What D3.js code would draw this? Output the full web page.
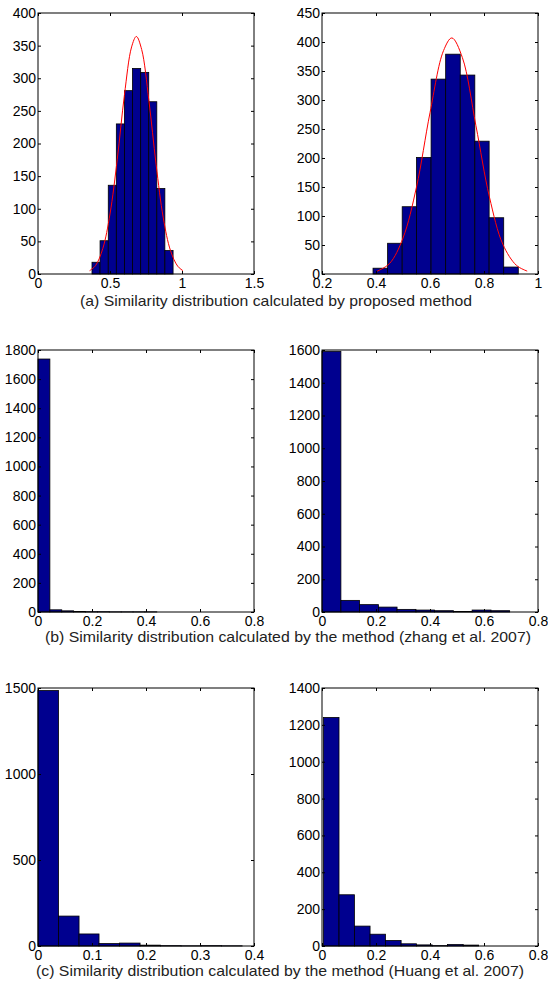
<!DOCTYPE html>
<html>
<head>
<meta charset="utf-8">
<script src="https://cdn.jsdelivr.net/npm/d3@7"></script>
<style>
  body { margin: 0; background: #fff; }
  svg text { font-family: Arial, "Liberation Sans", sans-serif; fill: #000; }
</style>
</head>
<body>
<div id="chart"></div>
<script>
// Histogram data (bin edges, counts, fitted curves)

const edgesA1 = [0.375, 0.431, 0.488, 0.544, 0.600, 0.656, 0.713, 0.769, 0.825, 0.881, 0.938];
const countsA1 = [18, 51, 136, 230, 281, 315, 309, 264, 131, 36];
const fitXA1 = [0.358, 0.40, 0.45, 0.50, 0.55, 0.60, 0.65, 0.683, 0.72, 0.77, 0.82, 0.87, 0.92, 0.97, 1.007];
const fitYA1 = [5, 13, 39, 92, 175, 274, 348, 364, 344, 266, 168, 86, 36, 12, 5];

const edgesA2 = [0.389, 0.443, 0.497, 0.550, 0.604, 0.658, 0.712, 0.766, 0.819, 0.873, 0.927];
const countsA2 = [10, 53, 116, 201, 336, 379, 343, 229, 97, 12];
const fitXA2 = [0.40, 0.45, 0.50, 0.55, 0.60, 0.65, 0.681, 0.72, 0.77, 0.82, 0.87, 0.92, 0.96];
const fitYA2 = [4, 18, 62, 150, 278, 385, 407, 373, 256, 133, 51, 15, 5];

const edgesB1 = [0, 0.044, 0.088, 0.132, 0.176, 0.220, 0.264, 0.308, 0.352, 0.396, 0.440];
const countsB1 = [1738, 15, 8, 3, 2, 2, 1, 1, 1, 1];

const edgesB2 = [0, 0.070, 0.139, 0.209, 0.278, 0.348, 0.417, 0.487, 0.556, 0.626, 0.695];
const countsB2 = [1592, 71, 45, 30, 16, 12, 8, 3, 12, 8];

const edgesC1 = [0, 0.038, 0.076, 0.113, 0.151, 0.189, 0.227, 0.265, 0.302, 0.340, 0.378];
const countsC1 = [1485, 174, 70, 14, 17, 5, 2, 1, 2, 1];

const edgesC2 = [0.005, 0.063, 0.120, 0.178, 0.235, 0.293, 0.350, 0.408, 0.465, 0.523, 0.580];
const countsC2 = [1240, 278, 108, 64, 30, 12, 6, 2, 8, 5];

// Tick labels
const xTicksA1 = [0, 0.5, 1, 1.5];
const yTicksA1 = [0, 50, 100, 150, 200, 250, 300, 350, 400];
const xTicksA2 = [0.2, 0.4, 0.6, 0.8, 1];
const yTicksA2 = [0, 50, 100, 150, 200, 250, 300, 350, 400, 450];
const xTicksB = [0, 0.2, 0.4, 0.6, 0.8];
const yTicksB1 = [0, 200, 400, 600, 800, 1000, 1200, 1400, 1600, 1800];
const yTicksB2 = [0, 200, 400, 600, 800, 1000, 1200, 1400, 1600];
const xTicksC1 = [0, 0.1, 0.2, 0.3, 0.4];
const yTicksC1 = [0, 500, 1000, 1500];
const xTicksC2 = [0, 0.2, 0.4, 0.6, 0.8];
const yTicksC2 = [0, 200, 400, 600, 800, 1000, 1200, 1400];

const captions = [
  "(a) Similarity distribution calculated by proposed method",
  "(b) Similarity distribution calculated by the method (zhang et al. 2007)",
  "(c) Similarity distribution calculated by the method (Huang et al. 2007)",
];

const WIDTH = 548;
const HEIGHT = 983;
const BAR_FILL = "#00008F";
const TICK = 3;
const FONT_SIZE = "14px";

const svg = d3
  .select("#chart")
  .append("svg")
  .attr("width", WIDTH)
  .attr("height", HEIGHT);

// column / row boxes in pixels
const cols = [
  [38, 254],
  [322, 538],
];
const rows = [
  [13, 274],
  [350, 612],
  [688, 946],
];

const panels = [
  { col: 0, row: 0, xDom: [0, 1.5], yDom: [0, 400], xTicks: xTicksA1, yTicks: yTicksA1, edges: edgesA1, counts: countsA1, fitX: fitXA1, fitY: fitYA1 },
  { col: 1, row: 0, xDom: [0.2, 1], yDom: [0, 450], xTicks: xTicksA2, yTicks: yTicksA2, edges: edgesA2, counts: countsA2, fitX: fitXA2, fitY: fitYA2 },
  { col: 0, row: 1, xDom: [0, 0.8], yDom: [0, 1800], xTicks: xTicksB, yTicks: yTicksB1, edges: edgesB1, counts: countsB1 },
  { col: 1, row: 1, xDom: [0, 0.8], yDom: [0, 1600], xTicks: xTicksB, yTicks: yTicksB2, edges: edgesB2, counts: countsB2 },
  { col: 0, row: 2, xDom: [0, 0.4], yDom: [0, 1500], xTicks: xTicksC1, yTicks: yTicksC1, edges: edgesC1, counts: countsC1 },
  { col: 1, row: 2, xDom: [0, 0.8], yDom: [0, 1400], xTicks: xTicksC2, yTicks: yTicksC2, edges: edgesC2, counts: countsC2 },
];

/**
 * Draw one histogram panel
 */
function drawPanel(p) {
  const [x0, x1] = cols[p.col];
  const [y0, y1] = rows[p.row];
  const x = d3.scaleLinear(p.xDom, [x0, x1]);
  const y = d3.scaleLinear(p.yDom, [y1, y0]);
  const g = svg.append("g");

  const bins = p.counts.map((c, i) => ({ lo: p.edges[i], hi: p.edges[i + 1], c: c }));

  g.selectAll("rect.bar")
    .data(bins)
    .enter()
    .append("rect")
    .attr("class", "bar")
    .attr("x", (d) => x(d.lo))
    .attr("y", (d) => y(d.c))
    .attr("width", (d) => x(d.hi) - x(d.lo))
    .attr("height", (d) => y(0) - y(d.c))
    .attr("fill", BAR_FILL)
    .attr("stroke", "#000")
    .attr("stroke-width", 0.8);

  if (p.fitX) {
    const pts = p.fitX.map((v, i) => ({ x: v, y: p.fitY[i] }));
    g.append("path")
      .datum(pts)
      .attr("fill", "none")
      .attr("stroke", "#ff0000")
      .attr("stroke-width", 1)
      .attr(
        "d",
        d3
          .line()
          .curve(d3.curveCatmullRom)
          .x((d) => x(d.x))
          .y((d) => y(d.y))
      );
  }

  const fmt = (d) => String(d);

  // bottom / left axes with inward ticks, plain ticks on top / right
  const xa = g
    .append("g")
    .attr("transform", `translate(0,${y1})`)
    .call(d3.axisBottom(x).tickValues(p.xTicks).tickFormat(fmt).tickSizeInner(-TICK).tickSizeOuter(0).tickPadding(4));
  const ya = g
    .append("g")
    .attr("transform", `translate(${x0},0)`)
    .call(d3.axisLeft(y).tickValues(p.yTicks).tickFormat(fmt).tickSizeInner(-TICK).tickSizeOuter(0).tickPadding(2));
  const xt = g
    .append("g")
    .attr("transform", `translate(0,${y0})`)
    .call(d3.axisTop(x).tickValues(p.xTicks).tickFormat("").tickSizeInner(-TICK).tickSizeOuter(0));
  const yr = g
    .append("g")
    .attr("transform", `translate(${x1},0)`)
    .call(d3.axisRight(y).tickValues(p.yTicks).tickFormat("").tickSizeInner(-TICK).tickSizeOuter(0));

  [xa, ya, xt, yr].forEach((a) => {
    a.select(".domain").remove();
    a.selectAll("line").attr("stroke", "#000");
    a.selectAll("text").style("font-size", FONT_SIZE).attr("font-family", null).attr("fill", "#222");
  });
  xa.selectAll("text").attr("dy", "0.71em");

  g.append("rect")
    .attr("x", x0)
    .attr("y", y0)
    .attr("width", x1 - x0)
    .attr("height", y1 - y0)
    .attr("fill", "none")
    .attr("stroke", "#000")
    .attr("stroke-width", 1);
}

panels.forEach(drawPanel);

// caption placement (centre x, baseline y, drawn width)
const captionX = [276, 288, 280];
const captionY = [306, 642, 976];
const captionW = [392, 486, 488];

svg
  .selectAll("text.caption")
  .data(captions)
  .enter()
  .append("text")
  .attr("class", "caption")
  .attr("x", (d, i) => captionX[i] - captionW[i] / 2)
  .attr("y", (d, i) => captionY[i])
  .attr("textLength", (d, i) => captionW[i])
  .attr("lengthAdjust", "spacingAndGlyphs")
  .style("font-size", "15px")
  .style("fill", "#222")
  .text((d) => d);
</script>
</body>
</html>
